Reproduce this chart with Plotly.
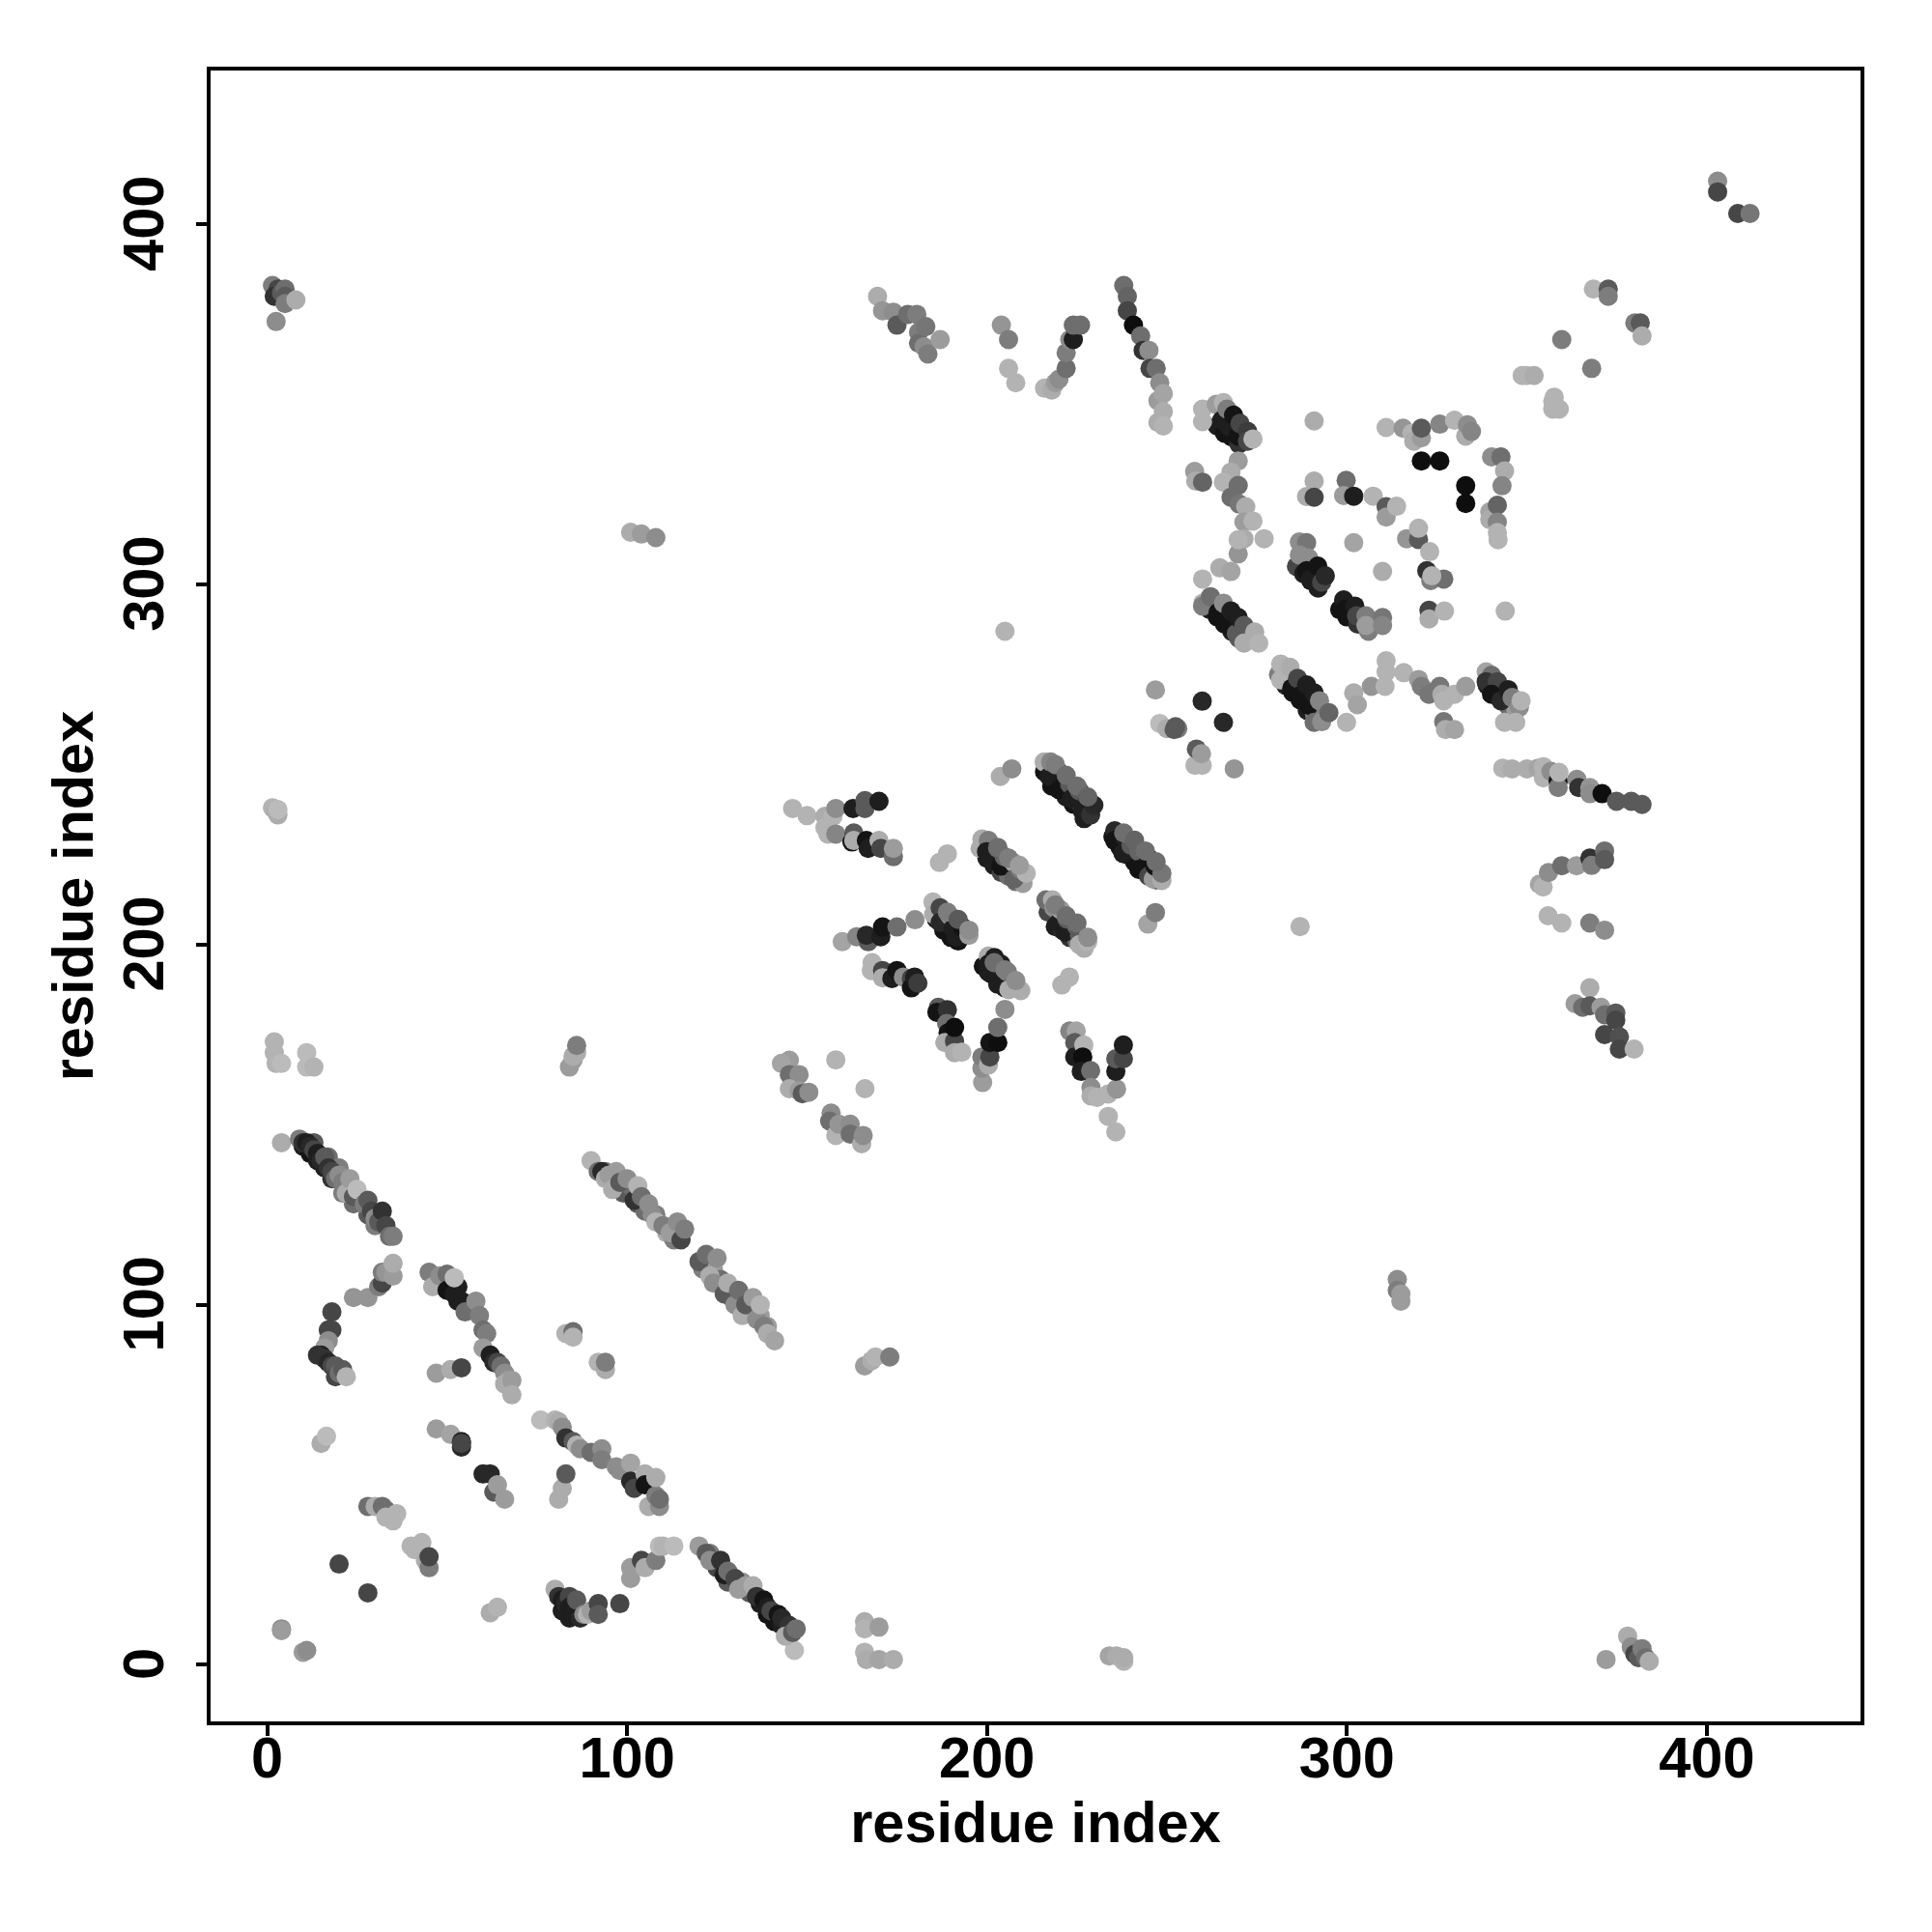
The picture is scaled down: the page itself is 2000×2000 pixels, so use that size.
import plotly.graph_objects as go

# (residue i, residue j, contact score), grouped by region
strand_undersides = [(10,144,.9),(12,142,.95),(13,145,.6),(14,140,.9),(16,138,.9),(17,141,.5),(18,135,.8),(20,138,.4),(21,131,.4),(23,133,.3),(24,128,.5),(28,125,.6),(30,122,.4),
(94,137,.4),(96,134,.5),(99,131,.6),(101,133,.5),(103,128,.6),(105,126,.5),(108,125,.4),(111,120,.1),(113,118,.4),(115,121,.5),(121,110,.4),(124,110,.2),(126,107,.5),(129,102,.5),(134,98,.5),(137,97,.2),(139,94,.2),
(123,31,.4),(125,27,.7),(128,23,.6),(132,23,.3),(134,20,.6),(137,17,.9),(139,14,.95),(141,12,.95),(143,11,.9),(145,8,.2),(82,15,.9),(84,13,.9),
(216,248,.95),(218,244,.95),(220,245,.9),(222,241,.9),(224,239,.95),(226,239,.8),(227,235,.9),(235,230,.95),(237,227,.95),(239,225,.95),(241,223,.95),(243,222,.9),(245,220,.95),(247,218,.7),
(199,227,.85),(200,224,.9),(202,222,.9),(204,220,.7),(206,219,.5),(208,217.5,.5),(210,217,.2),(217,209,.7),(219,205,.9),(221,204,.85),(223,202,.8),(225,201,.5),(227,199,.1),
(186,207,.9),(188,204,.95),(190,202,.95),(192,201,.95),(199,194,.95),(201,192,.95),(203,189,.9),(205,188,.9),
(281,275,.4),(283,272,.9),(285,270,.95),(287,268,.95),(289,265,.9),(291,264,.4),(339,272,.9),(341,270,.95),(343,268,.9),(345,266,.5),(347,265,.2),
(262,293,.9),(264,291,.95),(266,289,.95),(268,287,.9),(270,285,.6),(264,344,.9),(266,342,.95),(268,341,.95),(270,339,.8),(286,305,.7),(288,303,.9),(290,301,.95),(292,299,.9),(298,293,.95),(300,291,.95),(303,289,.8),(306,287,.4)]

lower_left = [(4,145,.1),(9,146,.4),(10,145,.8),(11,145,.9),(12,144,.85),(13,143,.7),(14,142,.9),(15,140,.85),(16,141,.6),(17,138,.8),(18,137,.7),(19,135,.5),(20,136,.3),(21,134,.4),(22,131,.1),(23,135,.2),(24,130,.6),(25,132,.0),(27,128,.4),(28,129,.6),(29,126,.7),(30,124,.3),(31,123,.6),(32,126,.8),(33,122,.7),(34,119,.5),(35,119,.4),
(24,102,.25),(28,102,.25),(31,105,.4),(32,106,.7),(32,109,.4),(33,109,.25),(35,108,.2),(35,111.5,.1),
(18,98,.7),(17,93,.7),(18,93,.7),(17,90,.3),(16,88,.2),(15,86,.9),(14,86,.8),(16,85,.8),(17,84,.85),(18,83,.7),(19,83,.6),(19,80,.7),(20,81,.5),(21,82,.6),(22,80,.05),
(45,109,.4),(46,105,.1),(48,108,.3),(50,108.5,.5),(50,104,.95),(52,103,.9),(53,105,.9),(53,101,.9),(54,101,.9),(52,107.5,.0),(55,98,.5),(58,101,.3),(59,97,.4),(60,93,.5),(61,92,.4),(60,88,.2),(62,86,.9),(63,84,.85),(64,84,.7),(65,83,.5),(66,81,.3),(67,79,.2),(66,78,.1),(68,79,.2),(68,75,.1),(47,81,.2),(51,82,.1),(54,82.5,.7),
(83,92,.05),(85,92.5,.5),(85,91,.05),(92,84,.05),(94,82,.1),(94,84,.4),(15,61.5,.1),(16.5,63.5,.0),
(47,65.5,.2),(51,64,.15),(54,62,.9),(54,60.5,.85),(54,61.5,.7),(60,53,.85),(62,53,.85),(63,48,.6),(64,50,.2),(66,46,.2),
(76,68,.0),(80,68,.05),(81,67.5,.1),(82,66,.3),(83,63,.8),(85,62,.6),(86,61,.05),(87,60,.3),(90,59,.5),(93,60,.3),(93,57,.4),(97,55,.3),(98,54,.3),(101,56,.15),(101,51,.85),(102,49,.7),(105,53,.1),(105,50,.95),(106,44,.1),(108,47,.4),(108,52,.1),(109,44,.3),(109,46,.5),(81,46,.1),(82,49,.1),(83,53,.6),
(28,44,.5),(30,44,.1),(32,44,.5),(33,43,.5),(33,41,.05),(35,40,.05),(36,42,.05),(40,33,.05),(41,32,.05),(42,33,.05),(43,34,.05),(44,29,.1),(45,27,.4),(45,30,.7),(20,28,.7),(28,20,.7),(4,10,.3),(4,9.5,.2),(10,3.5,.2),(11,4,.3),(62,14.5,.1),(64,16,.05),
(80,21,.1),(81,19,.8),(82,18,.9),(83,17,.85),(84,19,.7),(84,16,.9),(85,14,.9),(86,18,.6),(87,13,.85),(88,14,.3),(89,14,.05),(90,15,.2),(92,17,.7),(92,14,.6),(98,17,.7),
(101,24,.2),(101,27,.2),(104,29,.7),(105,27,.1),(108,29,.4),(109,33,.0),(110,33,.05),(113,33,.0),
(120,33,.2),(122,31,.6),(123,29,.3),(126,29,.8),(127,25,.9),(128,26,.5),(130,24,.7),(131,21,.2),(133,22,.2),(135,22,.1),(136,19,.8),(138,18,.95),(139,16,.9),(140,15,.7),(142,14,.95),(143,13,.85),(145,11,.8),(146.5,4,.0),(144,8,.1),(146,9,.6),(147,10,.5),
(90,140,.05),(92,137,.5),(93,137,.85),(94,135,.1),(95,136,.2),(96,132,.1),(97,137,.2),(98,134,.6),(100,135,.3),(102,129,.8),(103,133,.05),(104,130,.5),(106,128,.3),(107,125,.3),(108,123,.05),(110,122,.4),(112,120,.2),(114,123,.3),(115,118,.7),(116,121,.4),
(120,112,.6),(122,114,.5),(123,108,.1),(124,106,.3),(125,113,.3),(127,103,.6),(128,106,.1),(130,100,.3),(131,104,.5),(132,97,.1),(133,100,.6),(135,102,.2),(136,96,.3),(137,100,.05),(138,94,.4),(139,92,.1),(141,90,.15)]

far_contacts = [(1.5,383,.4),(3,382,.7),(2,380,.8),(4,381,.6),(5,382,.5),(5,380,.6),(5,378,.4),(8,379,.1),(2.5,373,.3),(1.5,238,.05),(2.5,237,.1),(3,236,.1),(3,237.5,.0),
(2,173,.05),(2,170,.05),(2.5,167,.05),(4,167,.0),(11,170,.0),(11,166,.0),(13,166,.05),(84,166,.2),(85,168,.2),(85,169,.1),(86,170,.1),(86,172,.4),
(166,83,.2),(168,84.5,.1),(169,85.5,.05),(173,85.5,.4),(166,12,.1),(166,10,.05),(170,10.5,.2),(166,3.5,.05),(166.5,1.5,.1),(170,1.5,.15),(174,1.5,.1),(234,2.5,.15),(236,2.5,.1),(238,1,.05),(238,2,.1),
(372,1.5,.2),(378,8,.1),(379,5,.3),(380,3,.7),(381,2,.6),(382,4.5,.4),(383,2,.5),(384,1,.1),(314,107,.3),(314,104,.4),(315,101,.2),(315,103,.2),(101,314.5,.1),(104,314,.2),(108,313,.3),(287,205,.05),(205,287,.05)]

middle = [(145.1,167.9,.2),(142.9,167,.15),(145.1,163.9,.5),(147.8,163.9,.3),(145.1,160,.1),(147.8,159.4,.2),(148.7,158.6,.6),(150.5,159,.3),(156.7,153.2,.3),(156.3,151,.5),(158,147,.05),(158.9,150.1,.25),(162,150.1,.3),(162,147.4,.5),(165.2,144.7,.1),(165.6,147,.3),(158,168,.05),(166.1,160,.05),
(146,237.8,.05),(150,235.8,.05),(155,235.6,.1),(155,232.5,.05),(155.8,230.7,.05),(157.2,235.6,.05),(158,237.8,.3),(158,230.7,.35),(162.8,237.8,.9),(166.1,240,.6),(166.1,237.8,.6),(170,239.8,.9),
(162.5,228.5,.95),(163,231,.6),(163,228.9,.1),(166.5,228.9,.95),(167,226.7,.9),(170,228.9,.1),(170.5,226.7,.7),(174,224.4,.5),(174,226.7,.2),(186.8,222.8,.05),(189,225.2,.05),
(159.8,200.8,.15),(163.8,202.2,.35),(167,200.8,.6),(166.5,202.6,.85),(170.5,202.2,.9),(171,204.9,.95),(175,204.9,.5),(180,206.9,.3),
(168.1,195,.05),(167.9,192.8,.05),(171,192.8,.7),(171,190.8,.1),(173.6,190.6,.9),(175,192.8,.95),(176.8,191,.3),(179,190.6,.7),(179,188,.95),(179.9,191,.9),(180.8,189.3,.75),
(185,211.8,.05),(185.2,208.4,.1),(187,210.2,.7),(187,206.2,.85),(189.7,208,.3),(190.6,204.4,.9),(191.4,202.2,.9),(191.9,206.6,.9),(193.2,204.8,.95),(195,202.6,.2),
(186.5,182.6,.6),(186.1,181.2,.95),(189,181.9,.8),(188.8,178.1,.5),(189.2,175.5,.95),(188.3,172.8,.1),(191,173.2,.7),(191,177,.98),(191,170,.1),(193,170.1,.05),
(198.8,161.7,.2),(198.6,165.7,.3),(198.6,168.8,.4),(200.4,166.6,.1),(200.8,168.8,.7),(200.8,172.8,.95),(203,172.8,.98),(203,177,.5),(205,182,.3),
(200.4,196.8,.1),(200.4,194.6,.9),(202.1,196.4,.9),(200.4,192.4,.9),(203,190.6,.9),(203.9,194.6,.9),(205.7,192.4,.4),(207.5,189.3,.6),(206.1,187.5,.1),(209.4,187.2,.1),
(198.6,229.3,.1),(198.1,226.7,.1),(200.4,228.9,.4),(199.9,225.8,.9),(201.2,223.6,.9),(203,226.7,.55),(203.9,221.8,.95),(204.8,224.4,.55),(207.5,222.7,.15),(207.5,218.2,.55),(209.3,220.9,.4),(210.9,219.8,.05),
(203.7,246.7,.1),(206.9,248.8,.3),
(216.4,212.4,.5),(218.2,212.4,.1),(218.6,210.2,.3),(220,206.2,.9),(220.4,209.7,.2),(221.7,203.5,.9),(222.2,207.1,.6),(224.8,205.3,.55),(225.7,202.6,.6),(225.7,200,.1),(228,200.8,.05),(220.8,188.8,.05),(222.9,191,.05),
(215.9,250.7,.1),(217.3,246.7,.9),(217.7,250.7,.35),(219.5,248.5,.9),(220,243,.95),(221.7,246.7,.95),(223,244.5,.6),(223.5,240.5,.9),(225.7,242.7,.6),(226.6,236.9,.9),(228,240.5,.9),(228.8,236,.8),(229.7,238.7,.85),
(223,176,.35),(224.8,176,.15),(224.4,172.8,.6),(224.4,168.8,.9),(226.9,172.1,.05),(226.6,168.8,.98),(226.2,164.8,.9),(228.8,165,.5),(228.9,160.3,.3),(228.9,158,.1),(230.6,157.6,.05),(233.7,158.5,.05),(233.7,152.3,.05),(235.8,148,.05),(236,159.9,.25),(235.8,164.8,.9),(235.8,168.3,.6),(237.9,168.3,.7),(237.9,172.1,.9),
(235.5,231.6,.85),(235.5,228.9,.95),(237.8,225.3,.9),(238.2,229.8,.9),(240,227.6,.6),(242.2,225.8,.55),(242.2,220.9,.95),(244.9,224,.95),(244.9,219,.7),(246.2,218.2,.2),(246.7,221.8,.95),(248.6,217.8,.1),(248.6,219.8,.45),(244.7,205.7,.15),(246.8,208.9,.4),
(246.8,270.7,.2),(248,261.4,.0),(250,260,.1),(253,260,.4),(252,259.7,.6),(252.4,260.5,.6),(259.8,267.6,.85),(265.7,261.7,.85),(257.8,249.8,.05),(258.2,254.3,.6),(259.8,249.8,.05),(259.6,253,.2),(268.7,248.8,.25)]

strand_tops = [(219,250,.4),(222,247,.5),(225,244,.5),(228,241,.55),(238,231,.5),(241,229,.55),(244,226,.5),(247,223,.5),(203,227,.5),(206,224,.4),(209,222,.2),(219,211,.4),(222,208,.5),(225,206,.5),(228,202,.3),(189,209,.4),(192,207,.6),(195,204,.3),(202,195,.5),(205,193,.4),(208,190,.3)]

top_band = [(169.6,380,.1),(171,376,.25),(174,375.6,.3),(175,372,.6),(178,375,.5),(180.5,375,.4),(181,370,.4),(181,367,.5),(182.5,366,.3),(183,371.6,.45),(183.6,364,.4),(187,368,.2),(204,372,.25),(206,368,.4),(206,360,.05),(208,356,.05),
(216,354.5,.05),(218,354,.1),(219,356,.2),(220,357,.3),(222,360,.5),(222,364.3,.4),(223,368,.3),(224,368,.9),(224,372,.5),(226,372,.5),
(238,383,.5),(239,380,.55),(239,376,.7),(240.7,372,.98),(242.7,369,.5),(243.4,365,.8),(245,365,.3),(245.3,360,.7),(247,360,.5),(247.5,351,.2),(248,356,.3),(247.5,345,.1),(249,353,.15),(249,348,.1),(249,344,.05),
(403,412,.3),(403,409,.7),(408.6,403,.7),(412,403,.45),(359.7,368,.4),(368,360,.4),(368.5,382,.05),(372.6,382,.6),(372.6,380,.4),(380,372.6,.4),(381.5,372.6,.6),(382,369,.1),(348.7,358,.05),(350,358,.05),(352,358,.1),(357.6,352,.05),(358,349.4,.05),(359,348.7,.05),(357.2,350.9,.05),(357.2,348.7,.05)]

upper_right = [(259.9,348.7,.05),(259.9,345.2,.05),(263.7,350,.2),(265.7,350.5,.05),(265.2,345.6,.9),(266.7,348.7,.4),(267.3,343.8,.9),(268.5,347,.95),(269.8,341.2,.95),(270.3,344.7,.7),(272.4,342.5,.75),(272.4,339.8,.7),(273.9,340.4,.05),
(257.7,331.4,.2),(258,328.7,.1),(259.9,328.4,.55),(269.8,334.3,.2),(267.8,331.2,.1),(265.7,328.4,.05),(269.8,327.5,.5),(267.8,324.2,.5),(270.1,322.3,.45),(271.9,321.6,.1),(271.4,317.3,.2),(273.9,317.6,.05),(269.8,308.5,.25),(271.4,312.7,.1),(269.8,312.4,.05),(277,312.7,.05),
(259.9,301.5,.05),(264.7,304.6,.1),(267.8,303.6,.15),(260,294.8,.1),(259.9,294,.4),(262.1,296.6,.5),(264.2,292.2,.95),(265.7,294.8,.3),(267.3,288.6,.95),(267.8,292.6,.9),(269.3,286.4,.6),(269.8,290.8,.9),(271.4,288.6,.6),(271.4,283.7,.1),(274.4,286.8,.1),(275.5,283.7,.05),
(281.6,277.9,.05),(281.6,273.5,.05),(284.2,277,.1),(284.7,271.2,.95),(286.3,273.9,.7),(286.8,269,.95),(288.8,272.1,.9),(289.4,266.4,.95),(290.9,269.9,.9),(292.4,267.7,.35),(290.9,261.7,.5),(293,261.9,.3),(295,264.4,.55),
(286.8,311.8,.3),(288.8,311.6,.45),(286.8,308.2,.3),(289.4,307.3,.3),(288.8,303.8,.95),(289.9,301.5,.9),(291.9,305.1,.95),(293,300.6,.7),(294,302.4,.85),
(288.8,324.4,.1),(290.9,328.7,.1),(290.9,324.2,.7),(290.9,345.4,.1),(299.1,295.7,.9),(299.6,293.1,.95),(302.2,294,.9),(302.7,291.3,.7),(305.3,291.3,.4),(305.3,288.6,.2),(309.9,290.8,.45),(309.9,288.6,.35),
(299.8,328.9,.5),(299.1,324.7,.2),(301.9,324.5,.9),(307.3,324.5,.05),(301.9,311.6,.15),(309.9,303.6,.1),(310.9,321.6,.6),(310.9,318.7,.2),(313.8,321.7,.05),(316.6,312.7,.25),(319.9,312.5,.6),(319.9,315.6,.05),(323,309.1,.05),(322.2,303.8,.8),(323.3,301.1,.4),(326.9,301.5,.5),(323.6,302.4,.05),(322.8,292.8,.7),(322.8,290.4,.1),(327.1,292.6,.05),(344,292.6,.05),
(299.9,261.7,.05),(301.9,269.9,.1),(302.9,266.6,.15),(306.8,271.7,.25),(310.9,278.8,.05),(310.9,275.7,.05),(310.6,271.7,.05),(315.8,275.5,.05),(319.9,273.6,.2),(320.7,271.7,.4),(322.8,269.5,.45),(325.8,271.7,.45),(326.4,269.5,.1),(326.9,267.7,.05),(329.9,269.5,.05),(333,271.7,.2),(326.9,261.9,.45),(327.4,259.7,.1),(329.9,259.7,.15),
(338.7,275.7,.15),(340.2,274.8,.5),(338.7,273,.8),(341.8,273,.7),(340.2,269.5,.95),(342.8,267.7,.85),(344.8,270.8,.9),(345.9,268.6,.4),(347.9,265.9,.3),(348.4,267.7,.05),(343.8,261.7,.05),(346.9,261.7,.05),
(310.9,343.6,.05),(315.6,343.4,.25),(318.1,342,.05),(318.6,339.8,.1),(320.7,340.7,.2),(320.7,343.4,.6),(325.8,344.5,.35),(329.9,345.6,.05),(333,341.2,.1),(333.5,344.3,.3),(334.6,342.5,.35),
(320.7,334.3,.98),(325.8,334.3,.98),(333,327.4,.98),(333,322.5,.98),(340.2,335.4,.3),(342.8,335.4,.5),(343.8,331.5,.1),(343.1,327.4,.35),(339.7,320.2,.15),(339.7,318,.1),(341.8,322,.55),(341.8,317.3,.35),(341.8,314.4,.05),(342,312.4,.05),
(343.3,249,.05),(345.9,248.8,.1),(350,248.8,.1),(353.1,249,.15),(354.6,249.4,.05),(354.6,246.3,.05),(356.7,248.1,.3),(358.7,245.4,.95),(358.7,243.6,.4),(358.9,247.8,.05),(363.9,245.9,.3),(364.4,243.6,.8),(367.5,243.6,.25),(367.5,241.9,.3),(370.9,241.9,.98),(374.9,239.8,.6),(379,239.8,.6),(382,238.9,.6),
(353.5,216.8,.15),(354.5,216,.05),(356,220,.3),(359.7,221.9,.5),(363.8,221.9,.2),(367.5,224,.8),(368,222,.4),(371.6,226,.5),(371.6,223.6,.6),(355.9,208,.05),(359.7,206,.05),(367.5,206,.4),(371.6,204,.3),
(363.4,183.6,.2),(365.5,182.6,.5),(367.5,188,.1),(367.5,183,.6),(370.6,182.6,.2),(371.6,180.5,.5),(371.6,175,.7),(374.7,181,.6),(374.7,179,.7),(375.7,174.4,.65),(375.7,171,.7),(379.8,171,.05)]

x_ticks = [0, 100, 200, 300, 400]
y_ticks = [0, 100, 200, 300, 400]
axis_label = "residue index"

contacts = strand_undersides + lower_left + far_contacts + middle + strand_tops + top_band + upper_right
res_i, res_j, score = zip(*contacts)

fig = go.Figure(go.Scatter(
    x=res_i, y=res_j, mode="markers",
    marker=dict(size=20, color=score, cmin=0, cmax=1, showscale=False,
                colorscale=[[0, "#bbbbbb"], [0.5, "#6e6e6e"], [1, "#0a0a0a"]], line=dict(width=0)),
    hoverinfo="skip"))

font = dict(family="Liberation Sans", size=59.5, color="black", weight="bold")
common = dict(showgrid=False, zeroline=False, showline=True, mirror=True, linecolor="black",
              linewidth=4, ticks="outside", ticklen=11, tickwidth=3.5, tickcolor="black",
              tickfont=font, range=[-15.7, 442.7], automargin=False)
fig.update_xaxes(tickvals=x_ticks, ticklabelstandoff=-28,
                 title=dict(text=axis_label, font=font, standoff=12), **common)
fig.update_yaxes(tickvals=y_ticks, tickangle=-90, ticklabelstandoff=10, ticklabelshift=8,
                 title=dict(text=axis_label, font=font, standoff=0), **common)
fig.update_layout(width=2000, height=2000, autosize=False, showlegend=False,
                  margin=dict(l=218, r=74, t=73, b=218, pad=0),
                  plot_bgcolor="white", paper_bgcolor="white")
fig.write_html("out.html", config=dict(displayModeBar=False),
               post_script="document.body.style.margin='0';")
